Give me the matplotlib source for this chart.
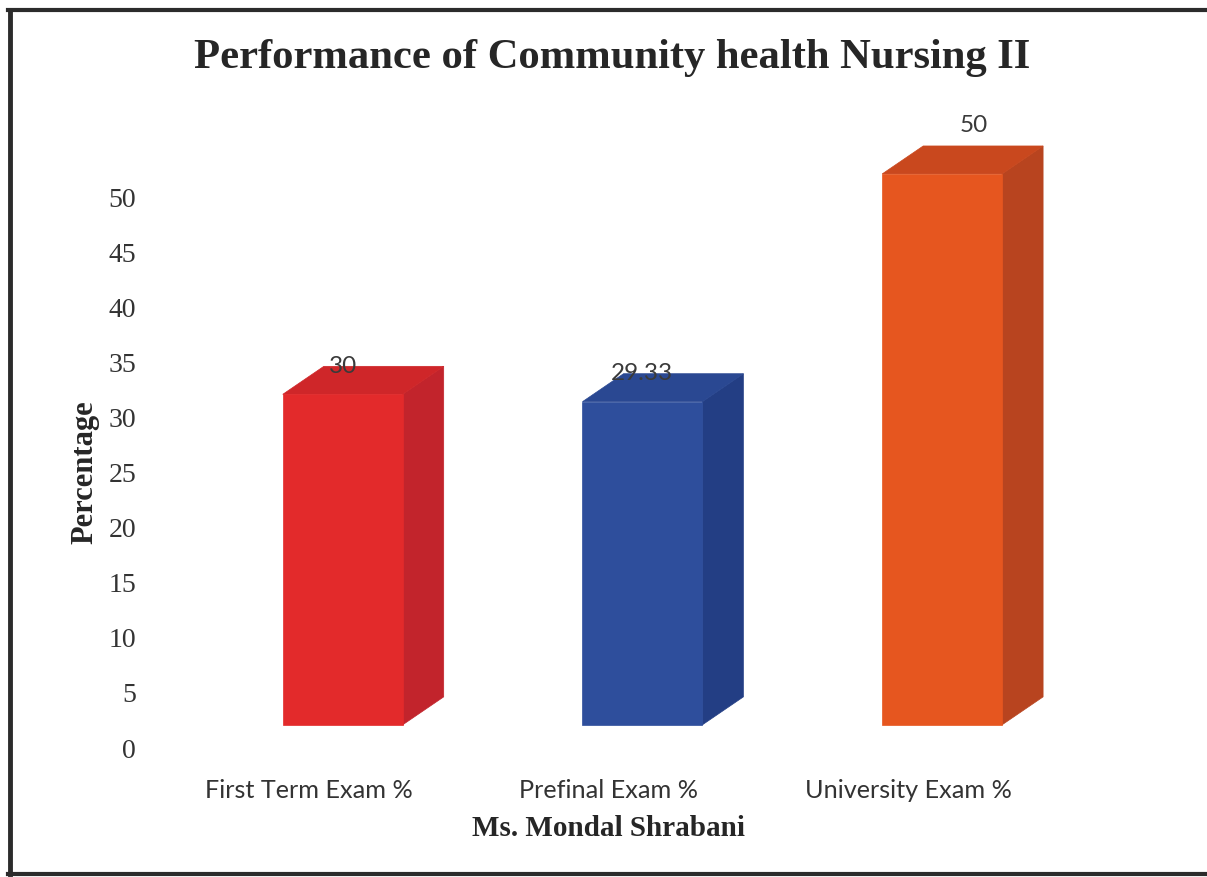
import matplotlib.pyplot as plt
from matplotlib.patches import Polygon
from matplotlib.lines import Line2D

# data
categories = ['First Term Exam %', 'Prefinal Exam %', 'University Exam %']
values = [30, 29.33, 50]
value_labels = ['30', '29.33', '50']
y_ticks = [0, 5, 10, 15, 20, 25, 30, 35, 40, 45, 50]

front_colors = ['#E32A2B', '#2E4E9C', '#E6561F']
side_colors = ['#C2242C', '#233E84', '#B8441F']
top_colors = ['#CF2629', '#2A4892', '#C9481E']

# fake 3d look
base = 2.1
shift = 0.113
width = 0.4
depth_x = 0.137
depth_y = 2.54
label_dx = [0, 0, 0.107]
label_dy = [0, 0, 1.9]

W, H = 1207, 877
fig = plt.figure(figsize=(W / 100, H / 100), dpi=100)
ax = fig.add_axes([150 / W, (H - 748) / H, (1133 - 150) / W, (748 - 142) / H])

xs = [i + shift for i in range(len(values))]
ax.bar(xs, values, width=width, bottom=base, color=front_colors,
       edgecolor=front_colors, linewidth=0.5, zorder=3)

for i, v in enumerate(values):
    x0 = xs[i] - width / 2
    x1 = xs[i] + width / 2
    top = base + v
    side = Polygon([(x1, base), (x1 + depth_x, base + depth_y),
                    (x1 + depth_x, top + depth_y), (x1, top)],
                   closed=True, facecolor=side_colors[i], edgecolor=side_colors[i], lw=0.5, zorder=2)
    lid = Polygon([(x0, top), (x0 + depth_x, top + depth_y),
                   (x1 + depth_x, top + depth_y), (x1, top)],
                  closed=True, facecolor=top_colors[i], edgecolor=top_colors[i], lw=0.5, zorder=2)
    ax.add_patch(side)
    ax.add_patch(lid)
    ax.text(xs[i] + label_dx[i], top + depth_y + label_dy[i], value_labels[i],
            ha='center', va='center', fontsize=17.5, family='Lato', color='#3a3a3a', zorder=5)

ax.set_xlim(-0.53, 2.75)
ax.set_ylim(0, 55)
ax.set_yticks(y_ticks)
ax.set_yticklabels([str(t) for t in y_ticks], family='Liberation Serif', fontsize=20, color='#333333')
ax.set_xticks(range(len(categories)))
ax.set_xticklabels(categories, family='Lato', fontsize=18.2, color='#333333')
ax.tick_params(axis='y', length=0, pad=10)
ax.tick_params(axis='x', length=0, pad=22)
for s in ax.spines.values():
    s.set_visible(False)

fig.text(612 / W, 1 - 58 / H, 'Performance of Community health Nursing II', ha='center', va='center',
         family='Liberation Serif', fontweight='bold', fontsize=30.7, color='#262626')
fig.text(85 / W, 1 - 472 / H, 'Percentage', ha='center', va='center', rotation=90,
         family='Liberation Serif', fontweight='bold', fontsize=22, color='#262626')
fig.text(608 / W, 1 - 828 / H, 'Ms. Mondal Shrabani', ha='center', va='center',
         family='Liberation Serif', fontweight='bold', fontsize=21, color='#262626')

# outer frame (left, top, bottom)
fig.add_artist(Line2D([10 / W, 10 / W], [3 / H, 1 - 10 / H], color='#2b2b2b', lw=3.5, transform=fig.transFigure))
fig.add_artist(Line2D([8 / W, 1], [1 - 10 / H, 1 - 10 / H], color='#2b2b2b', lw=3, transform=fig.transFigure))
fig.add_artist(Line2D([8 / W, 1], [3 / H, 3 / H], color='#2b2b2b', lw=3, transform=fig.transFigure))

fig.savefig('out.png', dpi=100)
